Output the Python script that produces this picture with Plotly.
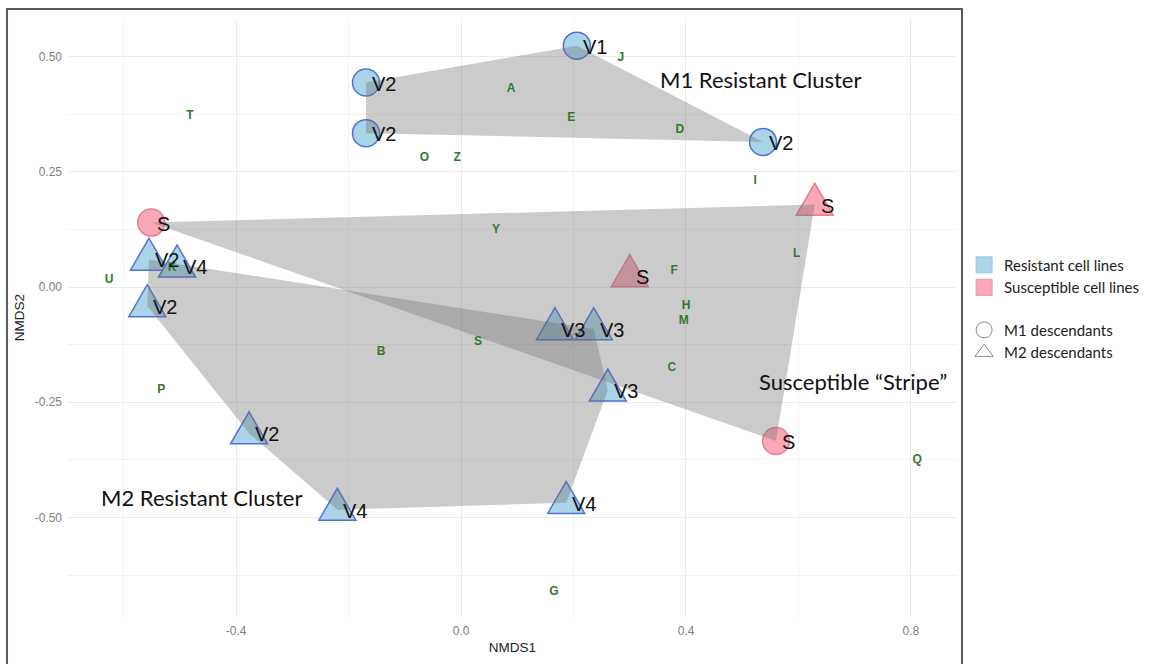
import plotly.graph_objects as go

# ---------------- data ----------------
cell_label = ["V1", "V2", "V2", "V2", "S", "S",
              "V2", "V4", "V2", "V2", "V4", "V4", "V3", "V3", "V3", "S", "S"]
cell_x = [0.206, -0.169, -0.169, 0.537, -0.551, 0.560,
          -0.555, -0.505, -0.558, -0.377, -0.220, 0.187, 0.167, 0.236, 0.261, 0.629, 0.300]
cell_y = [0.524, 0.444, 0.334, 0.315, 0.140, -0.334,
          0.060, 0.045, -0.041, -0.317, -0.483, -0.468, -0.091, -0.091, -0.224, 0.179, 0.024]
cell_status = ["R", "R", "R", "R", "S", "S",
               "R", "R", "R", "R", "R", "R", "R", "R", "R", "S", "S"]
cell_lineage = ["M1", "M1", "M1", "M1", "M1", "M1",
                "M2", "M2", "M2", "M2", "M2", "M2", "M2", "M2", "M2", "M2", "M2"]

species_label = ["A", "B", "C", "D", "E", "F", "G", "H", "I", "J", "K", "L", "M",
                 "O", "P", "Q", "S", "T", "U", "Y", "Z"]
species_x = [0.089, -0.142, 0.375, 0.389, 0.196, 0.379, 0.165, 0.400, 0.523, 0.284, -0.514, 0.597, 0.396,
             -0.065, -0.533, 0.811, 0.030, -0.482, -0.626, 0.062, -0.007]
species_y = [0.431, -0.140, -0.176, 0.341, 0.366, 0.035, -0.662, -0.042, 0.231, 0.498, 0.041, 0.071, -0.074,
             0.280, -0.224, -0.375, -0.119, 0.371, 0.015, 0.123, 0.280]

cluster_text = ["M1 Resistant Cluster", "Susceptible \u201cStripe\u201d", "M2 Resistant Cluster"]
cluster_x = [0.533, 0.697, -0.462]
cluster_y = [0.450, -0.205, -0.457]

x_tickvals = [-0.4, 0.0, 0.4, 0.8]
x_ticktext = ["-0.4", "0.0", "0.4", "0.8"]
y_tickvals = [-0.5, -0.25, 0.0, 0.25, 0.5]
y_ticktext = ["-0.50", "-0.25", "0.00", "0.25", "0.50"]
x_minor = [-0.6, -0.2, 0.2, 0.6]
y_minor = [-0.625, -0.375, -0.125, 0.125, 0.375]

legend_names = ["Resistant cell lines", "Susceptible cell lines", "M1 descendants", "M2 descendants"]

# ---------------- styles ----------------
FILL = {"R": "rgb(170,213,232)", "S": "rgb(248,168,182)"}
EDGE = {"R": "rgb(82,114,212)", "S": "rgb(228,130,145)"}
HULL_FILL = "rgba(110,110,110,0.36)"
TRI_PATH = "M-18.5,-10.7 L18.5,-10.7 L0,21.3 Z"
LABEL_FONT = "Liberation Sans, Arial, sans-serif"
NOTE_FONT = "Lato, Open Sans, sans-serif"


def convex_hull(xs, ys):
    pts = sorted(set(zip(xs, ys)))

    def cross(o, a, b):
        return (a[0] - o[0]) * (b[1] - o[1]) - (a[1] - o[1]) * (b[0] - o[0])

    lower = []
    for p in pts:
        while len(lower) >= 2 and cross(lower[-2], lower[-1], p) <= 0:
            lower.pop()
        lower.append(p)
    upper = []
    for p in reversed(pts):
        while len(upper) >= 2 and cross(upper[-2], upper[-1], p) <= 0:
            upper.pop()
        upper.append(p)
    h = lower[:-1] + upper[:-1]
    return [p[0] for p in h] + [h[0][0]], [p[1] for p in h] + [h[0][1]]


fig = go.Figure()

# circles (M1 descendants)
for st in ["R", "S"]:
    idx = [i for i in range(len(cell_x)) if cell_lineage[i] == "M1" and cell_status[i] == st]
    fig.add_trace(go.Scatter(
        x=[cell_x[i] for i in idx], y=[cell_y[i] for i in idx], mode="markers",
        marker=dict(symbol="circle", size=27, color=FILL[st], line=dict(color=EDGE[st], width=1.5)),
        showlegend=False, hoverinfo="skip"))

# triangles (M2 descendants) as pixel-sized shapes anchored on the data
shapes = []
for i in range(len(cell_x)):
    if cell_lineage[i] != "M2":
        continue
    st = cell_status[i]
    shapes.append(dict(type="path", xref="x", yref="y", xsizemode="pixel", ysizemode="pixel",
                       xanchor=cell_x[i], yanchor=cell_y[i], path=TRI_PATH,
                       fillcolor=FILL[st], line=dict(color=EDGE[st], width=1.5), layer="between"))

# hulls
groups = [
    [i for i in range(len(cell_x)) if cell_status[i] == "R" and cell_lineage[i] == "M1"],
    [i for i in range(len(cell_x)) if cell_status[i] == "R" and cell_lineage[i] == "M2"],
    [i for i in range(len(cell_x)) if cell_status[i] == "S"],
]
for g in groups:
    hx, hy = convex_hull([cell_x[i] for i in g], [cell_y[i] for i in g])
    fig.add_trace(go.Scatter(x=hx, y=hy, mode="lines", fill="toself", fillcolor=HULL_FILL,
                             line=dict(width=0), showlegend=False, hoverinfo="skip"))

# species letters
fig.add_trace(go.Scatter(
    x=species_x, y=species_y, mode="text", text=species_label,
    textfont=dict(family=LABEL_FONT, size=12, color="#2f7a2f", weight="bold"),
    showlegend=False, hoverinfo="skip"))

annotations = []
for i in range(len(cell_x)):
    annotations.append(dict(x=cell_x[i], y=cell_y[i], text=cell_label[i], showarrow=False,
                            xanchor="left", yanchor="middle", xshift=4, yshift=-1,
                            font=dict(family=LABEL_FONT, size=20, color="#111111")))
for t, x, y in zip(cluster_text, cluster_x, cluster_y):
    annotations.append(dict(x=x, y=y, text=t, showarrow=False, xanchor="center", yanchor="middle",
                            font=dict(family=NOTE_FONT, size=22, color="#111111")))

# legend entries
leg_specs = [
    dict(symbol="square", color=FILL["R"], line=dict(color="rgb(150,200,222)", width=1), group="fill"),
    dict(symbol="square", color=FILL["S"], line=dict(color="rgb(240,150,165)", width=1), group="fill"),
    dict(symbol="circle-open", color="#8a8a8a", line=dict(color="#8a8a8a", width=1), group="shape"),
    dict(symbol="triangle-up-open", color="#8a8a8a", line=dict(color="#8a8a8a", width=1), group="shape"),
]
for name, sp in zip(legend_names, leg_specs):
    fig.add_trace(go.Scatter(x=[None], y=[None], mode="markers", name=name, legendgroup=sp["group"],
                             marker=dict(symbol=sp["symbol"], size=19, color=sp["color"], line=sp["line"])))

# outer frame
shapes.append(dict(type="rect", xref="paper", yref="paper", x0=-0.0686, x1=1.0056, y0=-0.12, y1=1.0149,
                   line=dict(color="#5a5a5a", width=2), fillcolor="rgba(0,0,0,0)", layer="above"))

axis_common = dict(showline=False, zeroline=False, ticks="", gridcolor="#ebebeb", gridwidth=1,
                   tickfont=dict(family=LABEL_FONT, size=12, color="#808080"),
                   title_font=dict(family=LABEL_FONT, size=13.5, color="#222222"))

fig.update_layout(
    width=1167, height=664,
    margin=dict(l=68, r=210, t=18, b=43),
    paper_bgcolor="white", plot_bgcolor="white",
    xaxis=dict(range=[-0.699, 0.882], tickmode="array", tickvals=x_tickvals, ticktext=x_ticktext,
               minor=dict(tickmode="array", tickvals=x_minor, showgrid=True, gridcolor="#f3f3f3", gridwidth=1),
               title=dict(text="NMDS1", standoff=5), ticklabelstandoff=5, **axis_common),
    yaxis=dict(range=[-0.716, 0.584], tickmode="array", tickvals=y_tickvals, ticktext=y_ticktext,
               minor=dict(tickmode="array", tickvals=y_minor, showgrid=True, gridcolor="#f3f3f3", gridwidth=1),
               title=dict(text="NMDS2", standoff=6), ticklabelstandoff=5, **axis_common),
    shapes=shapes,
    annotations=annotations,
    showlegend=True,
    legend=dict(x=1.008, y=0.615, xanchor="left", yanchor="top", tracegroupgap=20,
                font=dict(family=NOTE_FONT, size=15, color="#222222"), bgcolor="rgba(0,0,0,0)",
                itemsizing="trace"),
)

fig.write_html("out.html")
